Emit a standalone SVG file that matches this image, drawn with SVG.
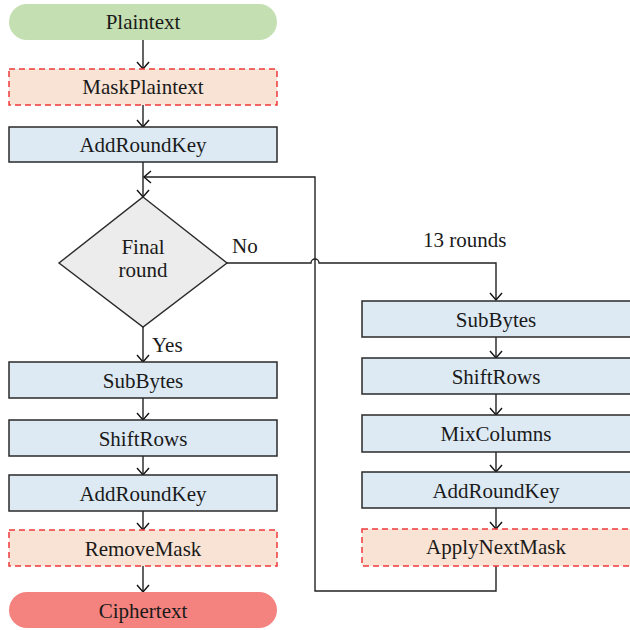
<svg xmlns="http://www.w3.org/2000/svg" width="630" height="630" viewBox="0 0 630 630">
<defs>
<marker id="ah" viewBox="-10 -7 12 14" refX="0" refY="0" markerWidth="12" markerHeight="14" markerUnits="userSpaceOnUse" orient="auto">
<path d="M-7,-6 L0,0 L-7,6" fill="none" stroke="#111" stroke-width="1.4"/>
</marker>
<style>
text{font-family:"Liberation Serif","Times New Roman",serif;font-size:21px;fill:#1a1a1a;text-anchor:middle;dominant-baseline:central}
.blue{fill:#ddeaf4;stroke:#2a2a2a;stroke-width:1.5}
.mask{fill:#f9e3d4;stroke:#ee3a3a;stroke-width:1.5;stroke-dasharray:6 4}
.line{fill:none;stroke:#222;stroke-width:1.4}
.lbl{text-anchor:start}
</style>
</defs>
<g id="connectors">
<line class="line" x1="143" y1="40" x2="143" y2="69" marker-end="url(#ah)"/>
<line class="line" x1="143" y1="105" x2="143" y2="127" marker-end="url(#ah)"/>
<line class="line" x1="143" y1="162" x2="143" y2="197" marker-end="url(#ah)"/>
<line class="line" x1="143" y1="327" x2="143" y2="362" marker-end="url(#ah)"/>
<line class="line" x1="143" y1="398" x2="143" y2="420" marker-end="url(#ah)"/>
<line class="line" x1="143" y1="456" x2="143" y2="475" marker-end="url(#ah)"/>
<line class="line" x1="143" y1="511" x2="143" y2="530" marker-end="url(#ah)"/>
<line class="line" x1="143" y1="566" x2="143" y2="592" marker-end="url(#ah)"/>
<path class="line" d="M227,263 H311 A4,4 0 0 1 319,263 H496 V300" marker-end="url(#ah)"/>
<line class="line" x1="496" y1="337" x2="496" y2="358" marker-end="url(#ah)"/>
<line class="line" x1="496" y1="394" x2="496" y2="415" marker-end="url(#ah)"/>
<line class="line" x1="496" y1="452" x2="496" y2="472" marker-end="url(#ah)"/>
<line class="line" x1="496" y1="508" x2="496" y2="529" marker-end="url(#ah)"/>
<path class="line" d="M496,566 V591 H315 V177 H144" marker-end="url(#ah)"/>
<text class="lbl" x="232" y="246">No</text>
<text class="lbl" x="152" y="345">Yes</text>
<text class="lbl" x="423" y="240">13 rounds</text>
</g>
<g id="plaintext"><rect x="9" y="4" width="268" height="36" rx="18" fill="#c4dfb1"/><text x="143" y="22">Plaintext</text></g>
<g id="maskplaintext"><rect class="mask" x="9" y="69" width="268" height="36"/><text x="143" y="87">MaskPlaintext</text></g>
<g id="addroundkey0"><rect class="blue" x="9" y="127" width="268" height="35"/><text x="143" y="145">AddRoundKey</text></g>
<g id="finalround"><polygon points="143,197 227,263 143,327 59,263" fill="#ececec" stroke="#2a2a2a" stroke-width="1.4"/><text x="143" y="247">Final</text><text x="143" y="270">round</text></g>
<g id="subbytes_f"><rect class="blue" x="9" y="362" width="268" height="36"/><text x="143" y="381">SubBytes</text></g>
<g id="shiftrows_f"><rect class="blue" x="9" y="420" width="268" height="36"/><text x="143" y="439">ShiftRows</text></g>
<g id="addroundkey_f"><rect class="blue" x="9" y="475" width="268" height="36"/><text x="143" y="494">AddRoundKey</text></g>
<g id="removemask"><rect class="mask" x="9" y="530" width="268" height="36"/><text x="143" y="549">RemoveMask</text></g>
<g id="ciphertext"><rect x="9" y="592" width="268" height="36" rx="18" fill="#f4837f"/><text x="143" y="611">Ciphertext</text></g>
<g id="subbytes_r"><rect class="blue" x="362" y="301" width="270" height="36"/><text x="496" y="320">SubBytes</text></g>
<g id="shiftrows_r"><rect class="blue" x="362" y="358" width="270" height="36"/><text x="496" y="377">ShiftRows</text></g>
<g id="mixcolumns_r"><rect class="blue" x="362" y="415" width="270" height="37"/><text x="496" y="434">MixColumns</text></g>
<g id="addroundkey_r"><rect class="blue" x="362" y="472" width="270" height="36"/><text x="496" y="491">AddRoundKey</text></g>
<g id="applynextmask"><rect class="mask" x="362" y="529" width="270" height="37"/><text x="496" y="547">ApplyNextMask</text></g>
</svg>
